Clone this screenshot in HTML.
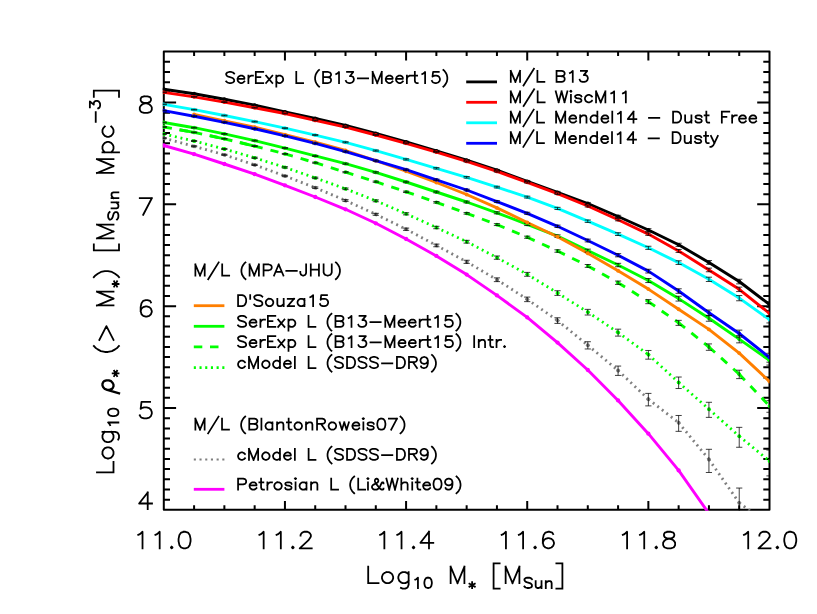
<!DOCTYPE html>
<html><head><meta charset="utf-8"><title>plot</title>
<style>html,body{margin:0;padding:0;background:#fff;font-family:"Liberation Sans",sans-serif}svg{display:block}</style>
</head><body>
<svg width="817" height="614" viewBox="0 0 817 614">
<rect width="817" height="614" fill="#fff"/>
<path d="M163.8 51.6H769.5V509.85H163.8ZM163.80 509.85v-8.9M163.80 51.6v8.9M194.09 509.85v-4.5M194.09 51.6v4.5M224.37 509.85v-4.5M224.37 51.6v4.5M254.66 509.85v-4.5M254.66 51.6v4.5M284.94 509.85v-8.9M284.94 51.6v8.9M315.23 509.85v-4.5M315.23 51.6v4.5M345.51 509.85v-4.5M345.51 51.6v4.5M375.80 509.85v-4.5M375.80 51.6v4.5M406.08 509.85v-8.9M406.08 51.6v8.9M436.37 509.85v-4.5M436.37 51.6v4.5M466.65 509.85v-4.5M466.65 51.6v4.5M496.94 509.85v-4.5M496.94 51.6v4.5M527.22 509.85v-8.9M527.22 51.6v8.9M557.51 509.85v-4.5M557.51 51.6v4.5M587.79 509.85v-4.5M587.79 51.6v4.5M618.08 509.85v-4.5M618.08 51.6v4.5M648.36 509.85v-8.9M648.36 51.6v8.9M678.64 509.85v-4.5M678.64 51.6v4.5M708.93 509.85v-4.5M708.93 51.6v4.5M739.22 509.85v-4.5M739.22 51.6v4.5M769.50 509.85v-8.9M769.50 51.6v8.9M163.8 509.85h12.3M769.5 509.85h-12.3M163.8 499.67h6.2M769.5 499.67h-6.2M163.8 489.48h6.2M769.5 489.48h-6.2M163.8 479.30h6.2M769.5 479.30h-6.2M163.8 469.12h6.2M769.5 469.12h-6.2M163.8 458.93h6.2M769.5 458.93h-6.2M163.8 448.75h6.2M769.5 448.75h-6.2M163.8 438.57h6.2M769.5 438.57h-6.2M163.8 428.38h6.2M769.5 428.38h-6.2M163.8 418.20h6.2M769.5 418.20h-6.2M163.8 408.02h12.3M769.5 408.02h-12.3M163.8 397.83h6.2M769.5 397.83h-6.2M163.8 387.65h6.2M769.5 387.65h-6.2M163.8 377.47h6.2M769.5 377.47h-6.2M163.8 367.28h6.2M769.5 367.28h-6.2M163.8 357.10h6.2M769.5 357.10h-6.2M163.8 346.92h6.2M769.5 346.92h-6.2M163.8 336.73h6.2M769.5 336.73h-6.2M163.8 326.55h6.2M769.5 326.55h-6.2M163.8 316.37h6.2M769.5 316.37h-6.2M163.8 306.18h12.3M769.5 306.18h-12.3M163.8 296.00h6.2M769.5 296.00h-6.2M163.8 285.82h6.2M769.5 285.82h-6.2M163.8 275.63h6.2M769.5 275.63h-6.2M163.8 265.45h6.2M769.5 265.45h-6.2M163.8 255.27h6.2M769.5 255.27h-6.2M163.8 245.08h6.2M769.5 245.08h-6.2M163.8 234.90h6.2M769.5 234.90h-6.2M163.8 224.72h6.2M769.5 224.72h-6.2M163.8 214.53h6.2M769.5 214.53h-6.2M163.8 204.35h12.3M769.5 204.35h-12.3M163.8 194.17h6.2M769.5 194.17h-6.2M163.8 183.98h6.2M769.5 183.98h-6.2M163.8 173.80h6.2M769.5 173.80h-6.2M163.8 163.62h6.2M769.5 163.62h-6.2M163.8 153.43h6.2M769.5 153.43h-6.2M163.8 143.25h6.2M769.5 143.25h-6.2M163.8 133.07h6.2M769.5 133.07h-6.2M163.8 122.88h6.2M769.5 122.88h-6.2M163.8 112.70h6.2M769.5 112.70h-6.2M163.8 102.52h12.3M769.5 102.52h-12.3M163.8 92.33h6.2M769.5 92.33h-6.2M163.8 82.15h6.2M769.5 82.15h-6.2M163.8 71.97h6.2M769.5 71.97h-6.2M163.8 61.78h6.2M769.5 61.78h-6.2M163.8 51.60h6.2M769.5 51.60h-6.2" fill="none" stroke="#000" stroke-width="2.0" stroke-linecap="butt" stroke-linejoin="round"/>
<clipPath id="c"><rect x="162.8" y="51.6" width="606.7" height="459.15"/></clipPath>
<g clip-path="url(#c)" fill="none" stroke-linejoin="round" stroke-linecap="butt">
<path d="M163.80 145.50L194.09 154.20L224.37 164.00L254.66 174.20L284.94 185.30L315.23 197.00L345.51 209.30L375.80 223.30L406.08 239.00L436.37 255.90L466.65 274.60L496.94 295.40L527.22 317.40L557.51 342.60L587.79 370.00L618.08 400.40L648.36 433.70L678.64 470.40L708.93 513.50L739.22 560.00L769.50 610.00" stroke="#f0f" stroke-width="2.9"/>
<path d="M163.80 138.20L194.09 146.30M194.09 146.30L224.37 154.80M224.37 154.80L254.66 164.90M254.66 164.90L284.94 176.00M284.94 176.00L315.23 187.70M315.23 187.70L345.51 200.50M345.51 200.50L375.80 214.30M375.80 214.30L406.08 229.20M406.08 229.20L436.37 245.40M436.37 245.40L466.65 261.80M466.65 261.80L496.94 279.70M496.94 279.70L527.22 299.30M527.22 299.30L557.51 320.50M557.51 320.50L587.79 345.20M587.79 345.20L618.08 370.50M618.08 370.50L648.36 399.20M648.36 399.20L678.64 422.70M678.64 422.70L708.93 459.40M708.93 459.40L739.22 502.80M739.22 502.80L769.50 525.50" stroke="#7f7f7f" stroke-width="2.8" stroke-dasharray="1.9 3.8"/>
<path d="M163.80 134.00L194.09 141.00M194.09 141.00L224.37 149.00M224.37 149.00L254.66 157.80M254.66 157.80L284.94 167.40M284.94 167.40L315.23 177.90M315.23 177.90L345.51 188.80M345.51 188.80L375.80 200.80M375.80 200.80L406.08 213.80M406.08 213.80L436.37 227.50M436.37 227.50L466.65 241.70M466.65 241.70L496.94 257.60M496.94 257.60L527.22 274.30M527.22 274.30L557.51 293.00M557.51 293.00L587.79 312.10M587.79 312.10L618.08 332.50M618.08 332.50L648.36 354.60M648.36 354.60L678.64 382.40M678.64 382.40L708.93 409.20M708.93 409.20L739.22 436.20M739.22 436.20L769.50 461.10" stroke="#0f0" stroke-width="2.8" stroke-dasharray="1.9 3.8"/>
<path d="M163.80 127.00L194.09 132.40M194.09 132.40L224.37 138.80M224.37 138.80L254.66 146.10M254.66 146.10L284.94 153.90M284.94 153.90L315.23 162.70M315.23 162.70L345.51 172.20M345.51 172.20L375.80 181.70M375.80 181.70L406.08 191.80M406.08 191.80L436.37 202.30M436.37 202.30L466.65 213.30M466.65 213.30L496.94 224.60M496.94 224.60L527.22 237.20M527.22 237.20L557.51 251.00M557.51 251.00L587.79 265.90M587.79 265.90L618.08 282.70M618.08 282.70L648.36 301.60M648.36 301.60L678.64 322.80M678.64 322.80L708.93 347.00M708.93 347.00L739.22 374.20M739.22 374.20L769.50 406.10" stroke="#0f0" stroke-width="2.9" stroke-dasharray="8.2 8.1"/>
<path d="M179.35 129.77L194.09 132.40M209.54 135.67L224.37 138.80M239.73 142.50L254.66 146.10" stroke="#0f0" stroke-width="2.9"/>
<path d="M163.80 122.50L194.09 127.70L224.37 133.90L254.66 140.60L284.94 148.10L315.23 155.90L345.51 163.70L375.80 172.40L406.08 182.00L436.37 192.00L466.65 202.00L496.94 212.80L527.22 224.40L557.51 236.10L587.79 250.60L618.08 265.00L648.36 280.50L678.64 298.60L708.93 318.20L739.22 339.10L769.50 360.40" stroke="#0f0" stroke-width="2.9"/>
<path d="M194.09 114.50L224.37 120.80L254.66 127.10L284.94 134.60L315.23 142.20L345.51 150.50L375.80 160.70L406.08 171.20L436.37 182.50L466.65 194.50L496.94 207.90L527.22 222.50L557.51 236.80L587.79 253.30L618.08 270.70L648.36 289.10L678.64 309.20L708.93 329.40L739.22 353.10L769.50 381.50" stroke="#ff7f00" stroke-width="2.9"/>
<path d="M163.80 89.20L194.09 93.70L224.37 99.20L254.66 105.10L284.94 111.80L315.23 118.40L345.51 125.40L375.80 133.50L406.08 141.80L436.37 150.90L466.65 160.20L496.94 170.20L527.22 181.30L557.51 192.30L587.79 203.50L618.08 216.50L648.36 230.00L678.64 244.80L708.93 262.40L739.22 281.50L769.50 304.50" stroke="#000" stroke-width="2.9"/>
<path d="M163.80 92.35L194.09 96.85L224.37 102.10L254.66 107.70L284.94 113.50L315.23 120.40L345.51 127.10L375.80 135.00L406.08 143.30L436.37 152.10L466.65 161.40L496.94 171.40L527.22 182.30L557.51 193.70L587.79 206.00L618.08 219.70L648.36 234.10L678.64 250.90L708.93 269.90L739.22 289.30L769.50 313.40" stroke="#f00" stroke-width="2.9"/>
<path d="M163.80 104.35L194.09 109.65L224.37 115.50L254.66 121.60L284.94 128.20L315.23 135.10L345.51 142.30L375.80 150.60L406.08 159.40L436.37 168.30L466.65 177.30L496.94 187.10L527.22 197.10L557.51 208.40L587.79 221.20L618.08 234.10L648.36 247.80L678.64 262.60L708.93 279.30L739.22 298.10L769.50 319.60" stroke="#0ff" stroke-width="2.9"/>
<path d="M163.80 110.60L194.09 116.25L224.37 122.30L254.66 128.75L284.94 135.80L315.23 143.40L345.51 151.60L375.80 160.70L406.08 169.70L436.37 179.80L466.65 190.00L496.94 201.60L527.22 213.30L557.51 226.30L587.79 240.50L618.08 255.20L648.36 271.10L678.64 291.00L708.93 312.80L739.22 333.50L769.50 357.50" stroke="#00f" stroke-width="2.9"/>
</g>
<g clip-path="url(#c)">
<g fill="#f0f"><circle cx="163.80" cy="145.50" r="2.15"/><circle cx="194.09" cy="154.20" r="2.15"/><circle cx="224.37" cy="164.00" r="2.15"/><circle cx="254.66" cy="174.20" r="2.15"/><circle cx="284.94" cy="185.30" r="2.15"/><circle cx="315.23" cy="197.00" r="2.15"/><circle cx="345.51" cy="209.30" r="2.15"/><circle cx="375.80" cy="223.30" r="2.15"/><circle cx="406.08" cy="239.00" r="2.15"/><circle cx="436.37" cy="255.90" r="2.15"/><circle cx="466.65" cy="274.60" r="2.15"/><circle cx="496.94" cy="295.40" r="2.15"/><circle cx="527.22" cy="317.40" r="2.15"/><circle cx="557.51" cy="342.60" r="2.15"/><circle cx="587.79" cy="370.00" r="2.15"/><circle cx="618.08" cy="400.40" r="2.15"/><circle cx="648.36" cy="433.70" r="2.15"/><circle cx="678.64" cy="470.40" r="2.15"/></g>
<g fill="#7f7f7f"><circle cx="163.80" cy="138.20" r="1.9"/><circle cx="194.09" cy="146.30" r="1.9"/><circle cx="224.37" cy="154.80" r="1.9"/><circle cx="254.66" cy="164.90" r="1.9"/><circle cx="284.94" cy="176.00" r="1.9"/><circle cx="315.23" cy="187.70" r="1.9"/><circle cx="345.51" cy="200.50" r="1.9"/><circle cx="375.80" cy="214.30" r="1.9"/><circle cx="406.08" cy="229.20" r="1.9"/><circle cx="436.37" cy="245.40" r="1.9"/><circle cx="466.65" cy="261.80" r="1.9"/><circle cx="496.94" cy="279.70" r="1.9"/><circle cx="527.22" cy="299.30" r="1.9"/><circle cx="557.51" cy="320.50" r="1.9"/><circle cx="587.79" cy="345.20" r="1.9"/><circle cx="618.08" cy="370.50" r="1.9"/><circle cx="648.36" cy="399.20" r="1.9"/><circle cx="678.64" cy="422.70" r="1.9"/><circle cx="708.93" cy="459.40" r="1.9"/><circle cx="739.22" cy="502.80" r="1.9"/></g>
<path d="M163.80 137.75V138.66M160.70 137.75h6.2M160.70 138.66h6.2M194.09 145.81V146.80M190.99 145.81h6.2M190.99 146.80h6.2M224.37 154.27V155.34M221.27 154.27h6.2M221.27 155.34h6.2M254.66 164.31V165.50M251.56 164.31h6.2M251.56 165.50h6.2M284.94 175.34V176.67M281.84 175.34h6.2M281.84 176.67h6.2M315.23 186.96V188.45M312.12 186.96h6.2M312.12 188.45h6.2M345.51 199.66V201.36M342.41 199.66h6.2M342.41 201.36h6.2M375.80 213.34V215.29M372.70 213.34h6.2M372.70 215.29h6.2M406.08 228.08V230.35M402.98 228.08h6.2M402.98 230.35h6.2M436.37 244.09V246.75M433.26 244.09h6.2M433.26 246.75h6.2M466.65 260.26V263.40M463.55 260.26h6.2M463.55 263.40h6.2M496.94 277.86V281.62M493.84 277.86h6.2M493.84 281.62h6.2M527.22 297.08V301.64M524.12 297.08h6.2M524.12 301.64h6.2M557.51 317.77V323.42M554.41 317.77h6.2M554.41 323.42h6.2M587.79 341.73V348.97M584.69 341.73h6.2M584.69 348.97h6.2M618.08 366.07V375.42M614.98 366.07h6.2M614.98 375.42h6.2M648.36 393.40V405.88M645.26 393.40h6.2M645.26 405.88h6.2M678.64 415.48V431.34M675.54 415.48h6.2M675.54 431.34h6.2M708.93 449.31V472.49M705.83 449.31h6.2M705.83 472.49h6.2M739.22 488.06V525.08M736.12 488.06h6.2M736.12 525.08h6.2" fill="none" stroke="#000" stroke-opacity="0.75" stroke-width="1"/>
<g fill="#0f0"><circle cx="163.80" cy="134.00" r="1.9"/><circle cx="194.09" cy="141.00" r="1.9"/><circle cx="224.37" cy="149.00" r="1.9"/><circle cx="254.66" cy="157.80" r="1.9"/><circle cx="284.94" cy="167.40" r="1.9"/><circle cx="315.23" cy="177.90" r="1.9"/><circle cx="345.51" cy="188.80" r="1.9"/><circle cx="375.80" cy="200.80" r="1.9"/><circle cx="406.08" cy="213.80" r="1.9"/><circle cx="436.37" cy="227.50" r="1.9"/><circle cx="466.65" cy="241.70" r="1.9"/><circle cx="496.94" cy="257.60" r="1.9"/><circle cx="527.22" cy="274.30" r="1.9"/><circle cx="557.51" cy="293.00" r="1.9"/><circle cx="587.79" cy="312.10" r="1.9"/><circle cx="618.08" cy="332.50" r="1.9"/><circle cx="648.36" cy="354.60" r="1.9"/><circle cx="678.64" cy="382.40" r="1.9"/><circle cx="708.93" cy="409.20" r="1.9"/><circle cx="739.22" cy="436.20" r="1.9"/><circle cx="769.50" cy="461.10" r="1.9"/></g>
<path d="M163.80 133.53V134.48M160.70 133.53h6.2M160.70 134.48h6.2M194.09 140.49V141.51M190.99 140.49h6.2M190.99 141.51h6.2M224.37 148.45V149.56M221.27 148.45h6.2M221.27 149.56h6.2M254.66 157.20V158.41M251.56 157.20h6.2M251.56 158.41h6.2M284.94 166.74V168.07M281.84 166.74h6.2M281.84 168.07h6.2M315.23 177.17V178.64M312.12 177.17h6.2M312.12 178.64h6.2M345.51 187.98V189.63M342.41 187.98h6.2M342.41 189.63h6.2M375.80 199.88V201.74M372.70 199.88h6.2M372.70 201.74h6.2M406.08 212.75V214.87M402.98 212.75h6.2M402.98 214.87h6.2M436.37 226.30V228.73M433.26 226.30h6.2M433.26 228.73h6.2M466.65 240.32V243.12M463.55 240.32h6.2M463.55 243.12h6.2M496.94 255.99V259.27M493.84 255.99h6.2M493.84 259.27h6.2M527.22 272.40V276.28M524.12 272.40h6.2M524.12 276.28h6.2M557.51 290.72V295.40M554.41 290.72h6.2M554.41 295.40h6.2M587.79 309.36V315.02M584.69 309.36h6.2M584.69 315.02h6.2M618.08 329.16V336.11M614.98 329.16h6.2M614.98 336.11h6.2M648.36 350.47V359.16M645.26 350.47h6.2M645.26 359.16h6.2M678.64 377.02V388.52M675.54 377.02h6.2M675.54 388.52h6.2M708.93 402.29V417.39M705.83 402.29h6.2M705.83 417.39h6.2M739.22 427.35V447.28M736.12 427.35h6.2M736.12 447.28h6.2M769.50 450.03V475.89M766.40 450.03h6.2M766.40 475.89h6.2" fill="none" stroke="#000" stroke-opacity="0.75" stroke-width="1"/>
<g fill="#0f0"><circle cx="163.80" cy="127.00" r="1.9"/><circle cx="194.09" cy="132.40" r="1.9"/><circle cx="224.37" cy="138.80" r="1.9"/><circle cx="254.66" cy="146.10" r="1.9"/><circle cx="284.94" cy="153.90" r="1.9"/><circle cx="315.23" cy="162.70" r="1.9"/><circle cx="345.51" cy="172.20" r="1.9"/><circle cx="375.80" cy="181.70" r="1.9"/><circle cx="406.08" cy="191.80" r="1.9"/><circle cx="436.37" cy="202.30" r="1.9"/><circle cx="466.65" cy="213.30" r="1.9"/><circle cx="496.94" cy="224.60" r="1.9"/><circle cx="527.22" cy="237.20" r="1.9"/><circle cx="557.51" cy="251.00" r="1.9"/><circle cx="587.79" cy="265.90" r="1.9"/><circle cx="618.08" cy="282.70" r="1.9"/><circle cx="648.36" cy="301.60" r="1.9"/><circle cx="678.64" cy="322.80" r="1.9"/><circle cx="708.93" cy="347.00" r="1.9"/><circle cx="739.22" cy="374.20" r="1.9"/><circle cx="769.50" cy="406.10" r="1.9"/></g>
<path d="M163.80 126.60V127.40M160.70 126.60h6.2M160.70 127.40h6.2M194.09 132.00V132.80M190.99 132.00h6.2M190.99 132.80h6.2M224.37 138.40V139.20M221.27 138.40h6.2M221.27 139.20h6.2M254.66 145.67V146.53M251.56 145.67h6.2M251.56 146.53h6.2M284.94 153.44V154.37M281.84 153.44h6.2M281.84 154.37h6.2M315.23 162.20V163.21M312.12 162.20h6.2M312.12 163.21h6.2M345.51 171.65V172.76M342.41 171.65h6.2M342.41 172.76h6.2M375.80 181.09V182.32M372.70 181.09h6.2M372.70 182.32h6.2M406.08 191.13V192.48M402.98 191.13h6.2M402.98 192.48h6.2M436.37 201.55V203.06M433.26 201.55h6.2M433.26 203.06h6.2M466.65 212.47V214.15M463.55 212.47h6.2M463.55 214.15h6.2M496.94 223.67V225.55M493.84 223.67h6.2M493.84 225.55h6.2M527.22 236.15V238.28M524.12 236.15h6.2M524.12 238.28h6.2M557.51 249.79V252.24M554.41 249.79h6.2M554.41 252.24h6.2M587.79 264.50V267.34M584.69 264.50h6.2M584.69 267.34h6.2M618.08 281.05V284.41M614.98 281.05h6.2M614.98 284.41h6.2M648.36 299.61V303.68M645.26 299.61h6.2M645.26 303.68h6.2M678.64 320.36V325.38M675.54 320.36h6.2M675.54 325.38h6.2M708.93 343.91V350.32M705.83 343.91h6.2M705.83 350.32h6.2M739.22 370.19V378.61M736.12 370.19h6.2M736.12 378.61h6.2M769.50 400.67V412.29M766.40 400.67h6.2M766.40 412.29h6.2" fill="none" stroke="#000" stroke-opacity="0.75" stroke-width="1"/>
<g fill="#0f0"><circle cx="163.80" cy="122.50" r="1.9"/><circle cx="194.09" cy="127.70" r="1.9"/><circle cx="224.37" cy="133.90" r="1.9"/><circle cx="254.66" cy="140.60" r="1.9"/><circle cx="284.94" cy="148.10" r="1.9"/><circle cx="315.23" cy="155.90" r="1.9"/><circle cx="345.51" cy="163.70" r="1.9"/><circle cx="375.80" cy="172.40" r="1.9"/><circle cx="406.08" cy="182.00" r="1.9"/><circle cx="436.37" cy="192.00" r="1.9"/><circle cx="466.65" cy="202.00" r="1.9"/><circle cx="496.94" cy="212.80" r="1.9"/><circle cx="527.22" cy="224.40" r="1.9"/><circle cx="557.51" cy="236.10" r="1.9"/><circle cx="587.79" cy="250.60" r="1.9"/><circle cx="618.08" cy="265.00" r="1.9"/><circle cx="648.36" cy="280.50" r="1.9"/><circle cx="678.64" cy="298.60" r="1.9"/><circle cx="708.93" cy="318.20" r="1.9"/><circle cx="739.22" cy="339.10" r="1.9"/><circle cx="769.50" cy="360.40" r="1.9"/></g>
<path d="M163.80 122.09V122.91M160.70 122.09h6.2M160.70 122.91h6.2M194.09 127.27V128.14M190.99 127.27h6.2M190.99 128.14h6.2M224.37 133.44V134.36M221.27 133.44h6.2M221.27 134.36h6.2M254.66 140.11V141.10M251.56 140.11h6.2M251.56 141.10h6.2M284.94 147.57V148.64M281.84 147.57h6.2M281.84 148.64h6.2M315.23 155.33V156.48M312.12 155.33h6.2M312.12 156.48h6.2M345.51 163.08V164.33M342.41 163.08h6.2M342.41 164.33h6.2M375.80 171.73V173.08M372.70 171.73h6.2M372.70 173.08h6.2M406.08 181.26V182.75M402.98 181.26h6.2M402.98 182.75h6.2M436.37 191.18V192.83M433.26 191.18h6.2M433.26 192.83h6.2M466.65 201.10V202.92M463.55 201.10h6.2M463.55 202.92h6.2M496.94 211.79V213.83M493.84 211.79h6.2M493.84 213.83h6.2M527.22 223.27V225.56M524.12 223.27h6.2M524.12 225.56h6.2M557.51 234.83V237.40M554.41 234.83h6.2M554.41 237.40h6.2M587.79 249.14V252.11M584.69 249.14h6.2M584.69 252.11h6.2M618.08 263.32V266.75M614.98 263.32h6.2M614.98 266.75h6.2M648.36 278.54V282.55M645.26 278.54h6.2M645.26 282.55h6.2M678.64 296.26V301.07M675.54 296.26h6.2M675.54 301.07h6.2M708.93 315.37V321.22M705.83 315.37h6.2M705.83 321.22h6.2M739.22 335.64V342.86M736.12 335.64h6.2M736.12 342.86h6.2M769.50 356.15V365.10M766.40 356.15h6.2M766.40 365.10h6.2" fill="none" stroke="#000" stroke-opacity="0.75" stroke-width="1"/>
<g fill="#ff7f00"><circle cx="194.09" cy="114.50" r="1.95"/><circle cx="224.37" cy="120.80" r="1.95"/><circle cx="254.66" cy="127.10" r="1.95"/><circle cx="284.94" cy="134.60" r="1.95"/><circle cx="315.23" cy="142.20" r="1.95"/><circle cx="345.51" cy="150.50" r="1.95"/><circle cx="375.80" cy="160.70" r="1.95"/><circle cx="406.08" cy="171.20" r="1.95"/><circle cx="436.37" cy="182.50" r="1.95"/><circle cx="466.65" cy="194.50" r="1.95"/><circle cx="496.94" cy="207.90" r="1.95"/><circle cx="527.22" cy="222.50" r="1.95"/><circle cx="557.51" cy="236.80" r="1.95"/><circle cx="587.79" cy="253.30" r="1.95"/><circle cx="618.08" cy="270.70" r="1.95"/><circle cx="648.36" cy="289.10" r="1.95"/><circle cx="678.64" cy="309.20" r="1.95"/><circle cx="708.93" cy="329.40" r="1.95"/><circle cx="739.22" cy="353.10" r="1.95"/><circle cx="769.50" cy="381.50" r="1.95"/></g>
<g fill="#000"><circle cx="163.80" cy="89.20" r="1.9"/><circle cx="194.09" cy="93.70" r="1.9"/><circle cx="224.37" cy="99.20" r="1.9"/><circle cx="254.66" cy="105.10" r="1.9"/><circle cx="284.94" cy="111.80" r="1.9"/><circle cx="315.23" cy="118.40" r="1.9"/><circle cx="345.51" cy="125.40" r="1.9"/><circle cx="375.80" cy="133.50" r="1.9"/><circle cx="406.08" cy="141.80" r="1.9"/><circle cx="436.37" cy="150.90" r="1.9"/><circle cx="466.65" cy="160.20" r="1.9"/><circle cx="496.94" cy="170.20" r="1.9"/><circle cx="527.22" cy="181.30" r="1.9"/><circle cx="557.51" cy="192.30" r="1.9"/><circle cx="587.79" cy="203.50" r="1.9"/><circle cx="618.08" cy="216.50" r="1.9"/><circle cx="648.36" cy="230.00" r="1.9"/><circle cx="678.64" cy="244.80" r="1.9"/><circle cx="708.93" cy="262.40" r="1.9"/><circle cx="739.22" cy="281.50" r="1.9"/><circle cx="769.50" cy="304.50" r="1.9"/></g>
<path d="M163.80 88.80V89.60M160.70 88.80h6.2M160.70 89.60h6.2M194.09 93.30V94.10M190.99 93.30h6.2M190.99 94.10h6.2M224.37 98.80V99.60M221.27 98.80h6.2M221.27 99.60h6.2M254.66 104.70V105.50M251.56 104.70h6.2M251.56 105.50h6.2M284.94 111.38V112.22M281.84 111.38h6.2M281.84 112.22h6.2M315.23 117.95V118.85M312.12 117.95h6.2M312.12 118.85h6.2M345.51 124.92V125.88M342.41 124.92h6.2M342.41 125.88h6.2M375.80 132.98V134.03M372.70 132.98h6.2M372.70 134.03h6.2M406.08 141.24V142.37M402.98 141.24h6.2M402.98 142.37h6.2M436.37 150.28V151.53M433.26 150.28h6.2M433.26 151.53h6.2M466.65 159.52V160.89M463.55 159.52h6.2M463.55 160.89h6.2M496.94 169.45V170.96M493.84 169.45h6.2M493.84 170.96h6.2M527.22 180.46V182.15M524.12 180.46h6.2M524.12 182.15h6.2M557.51 191.37V193.25M554.41 191.37h6.2M554.41 193.25h6.2M587.79 202.46V204.57M584.69 202.46h6.2M584.69 204.57h6.2M618.08 215.32V217.72M614.98 215.32h6.2M614.98 217.72h6.2M648.36 228.65V231.40M645.26 228.65h6.2M645.26 231.40h6.2M678.64 243.24V246.42M675.54 243.24h6.2M675.54 246.42h6.2M708.93 260.54V264.34M705.83 260.54h6.2M705.83 264.34h6.2M739.22 279.26V283.86M736.12 279.26h6.2M736.12 283.86h6.2M769.50 301.70V307.49M766.40 301.70h6.2M766.40 307.49h6.2" fill="none" stroke="#000" stroke-opacity="0.75" stroke-width="1"/>
<g fill="#f00"><circle cx="163.80" cy="92.35" r="1.9"/><circle cx="194.09" cy="96.85" r="1.9"/><circle cx="224.37" cy="102.10" r="1.9"/><circle cx="254.66" cy="107.70" r="1.9"/><circle cx="284.94" cy="113.50" r="1.9"/><circle cx="315.23" cy="120.40" r="1.9"/><circle cx="345.51" cy="127.10" r="1.9"/><circle cx="375.80" cy="135.00" r="1.9"/><circle cx="406.08" cy="143.30" r="1.9"/><circle cx="436.37" cy="152.10" r="1.9"/><circle cx="466.65" cy="161.40" r="1.9"/><circle cx="496.94" cy="171.40" r="1.9"/><circle cx="527.22" cy="182.30" r="1.9"/><circle cx="557.51" cy="193.70" r="1.9"/><circle cx="587.79" cy="206.00" r="1.9"/><circle cx="618.08" cy="219.70" r="1.9"/><circle cx="648.36" cy="234.10" r="1.9"/><circle cx="678.64" cy="250.90" r="1.9"/><circle cx="708.93" cy="269.90" r="1.9"/><circle cx="739.22" cy="289.30" r="1.9"/><circle cx="769.50" cy="313.40" r="1.9"/></g>
<path d="M163.80 91.95V92.75M160.70 91.95h6.2M160.70 92.75h6.2M194.09 96.45V97.25M190.99 96.45h6.2M190.99 97.25h6.2M224.37 101.70V102.50M221.27 101.70h6.2M221.27 102.50h6.2M254.66 107.30V108.10M251.56 107.30h6.2M251.56 108.10h6.2M284.94 113.10V113.90M281.84 113.10h6.2M281.84 113.90h6.2M315.23 120.00V120.81M312.12 120.00h6.2M312.12 120.81h6.2M345.51 126.67V127.54M342.41 126.67h6.2M342.41 127.54h6.2M375.80 134.53V135.47M372.70 134.53h6.2M372.70 135.47h6.2M406.08 142.79V143.81M402.98 142.79h6.2M402.98 143.81h6.2M436.37 151.55V152.66M433.26 151.55h6.2M433.26 152.66h6.2M466.65 160.79V162.02M463.55 160.79h6.2M463.55 162.02h6.2M496.94 170.73V172.08M493.84 170.73h6.2M493.84 172.08h6.2M527.22 181.55V183.06M524.12 181.55h6.2M524.12 183.06h6.2M557.51 192.86V194.55M554.41 192.86h6.2M554.41 194.55h6.2M587.79 205.05V206.97M584.69 205.05h6.2M584.69 206.97h6.2M618.08 218.62V220.81M614.98 218.62h6.2M614.98 220.81h6.2M648.36 232.85V235.38M645.26 232.85h6.2M645.26 235.38h6.2M678.64 249.43V252.42M675.54 249.43h6.2M675.54 252.42h6.2M708.93 268.12V271.75M705.83 268.12h6.2M705.83 271.75h6.2M739.22 287.15V291.56M736.12 287.15h6.2M736.12 291.56h6.2M769.50 310.68V316.29M766.40 310.68h6.2M766.40 316.29h6.2" fill="none" stroke="#000" stroke-opacity="0.75" stroke-width="1"/>
<g fill="#0ff"><circle cx="163.80" cy="104.35" r="1.9"/><circle cx="194.09" cy="109.65" r="1.9"/><circle cx="224.37" cy="115.50" r="1.9"/><circle cx="254.66" cy="121.60" r="1.9"/><circle cx="284.94" cy="128.20" r="1.9"/><circle cx="315.23" cy="135.10" r="1.9"/><circle cx="345.51" cy="142.30" r="1.9"/><circle cx="375.80" cy="150.60" r="1.9"/><circle cx="406.08" cy="159.40" r="1.9"/><circle cx="436.37" cy="168.30" r="1.9"/><circle cx="466.65" cy="177.30" r="1.9"/><circle cx="496.94" cy="187.10" r="1.9"/><circle cx="527.22" cy="197.10" r="1.9"/><circle cx="557.51" cy="208.40" r="1.9"/><circle cx="587.79" cy="221.20" r="1.9"/><circle cx="618.08" cy="234.10" r="1.9"/><circle cx="648.36" cy="247.80" r="1.9"/><circle cx="678.64" cy="262.60" r="1.9"/><circle cx="708.93" cy="279.30" r="1.9"/><circle cx="739.22" cy="298.10" r="1.9"/><circle cx="769.50" cy="319.60" r="1.9"/></g>
<path d="M163.80 103.95V104.75M160.70 103.95h6.2M160.70 104.75h6.2M194.09 109.25V110.05M190.99 109.25h6.2M190.99 110.05h6.2M224.37 115.08V115.92M221.27 115.08h6.2M221.27 115.92h6.2M254.66 121.16V122.05M251.56 121.16h6.2M251.56 122.05h6.2M284.94 127.73V128.68M281.84 127.73h6.2M281.84 128.68h6.2M315.23 134.59V135.61M312.12 134.59h6.2M312.12 135.61h6.2M345.51 141.76V142.85M342.41 141.76h6.2M342.41 142.85h6.2M375.80 150.01V151.20M372.70 150.01h6.2M372.70 151.20h6.2M406.08 158.76V160.05M402.98 158.76h6.2M402.98 160.05h6.2M436.37 167.60V169.01M433.26 167.60h6.2M433.26 169.01h6.2M466.65 176.53V178.08M463.55 176.53h6.2M463.55 178.08h6.2M496.94 186.25V187.96M493.84 186.25h6.2M493.84 187.96h6.2M527.22 196.16V198.06M524.12 196.16h6.2M524.12 198.06h6.2M557.51 207.35V209.47M554.41 207.35h6.2M554.41 209.47h6.2M587.79 220.01V222.42M584.69 220.01h6.2M584.69 222.42h6.2M618.08 232.75V235.49M614.98 232.75h6.2M614.98 235.49h6.2M648.36 246.26V249.40M645.26 246.26h6.2M645.26 249.40h6.2M678.64 260.81V264.46M675.54 260.81h6.2M675.54 264.46h6.2M708.93 277.20V281.51M705.83 277.20h6.2M705.83 281.51h6.2M739.22 295.57V300.78M736.12 295.57h6.2M736.12 300.78h6.2M769.50 316.49V322.95M766.40 316.49h6.2M766.40 322.95h6.2" fill="none" stroke="#000" stroke-opacity="0.75" stroke-width="1"/>
<g fill="#00f"><circle cx="163.80" cy="110.60" r="1.9"/><circle cx="194.09" cy="116.25" r="1.9"/><circle cx="224.37" cy="122.30" r="1.9"/><circle cx="254.66" cy="128.75" r="1.9"/><circle cx="284.94" cy="135.80" r="1.9"/><circle cx="315.23" cy="143.40" r="1.9"/><circle cx="345.51" cy="151.60" r="1.9"/><circle cx="375.80" cy="160.70" r="1.9"/><circle cx="406.08" cy="169.70" r="1.9"/><circle cx="436.37" cy="179.80" r="1.9"/><circle cx="466.65" cy="190.00" r="1.9"/><circle cx="496.94" cy="201.60" r="1.9"/><circle cx="527.22" cy="213.30" r="1.9"/><circle cx="557.51" cy="226.30" r="1.9"/><circle cx="587.79" cy="240.50" r="1.9"/><circle cx="618.08" cy="255.20" r="1.9"/><circle cx="648.36" cy="271.10" r="1.9"/><circle cx="678.64" cy="291.00" r="1.9"/><circle cx="708.93" cy="312.80" r="1.9"/><circle cx="739.22" cy="333.50" r="1.9"/><circle cx="769.50" cy="357.50" r="1.9"/></g>
<path d="M163.80 110.20V111.00M160.70 110.20h6.2M160.70 111.00h6.2M194.09 115.85V116.65M190.99 115.85h6.2M190.99 116.65h6.2M224.37 121.88V122.72M221.27 121.88h6.2M221.27 122.72h6.2M254.66 128.30V129.20M251.56 128.30h6.2M251.56 129.20h6.2M284.94 135.32V136.29M281.84 135.32h6.2M281.84 136.29h6.2M315.23 142.88V143.92M312.12 142.88h6.2M312.12 143.92h6.2M345.51 151.04V152.17M342.41 151.04h6.2M342.41 152.17h6.2M375.80 160.08V161.32M372.70 160.08h6.2M372.70 161.32h6.2M406.08 169.03V170.38M402.98 169.03h6.2M402.98 170.38h6.2M436.37 179.06V180.56M433.26 179.06h6.2M433.26 180.56h6.2M466.65 189.18V190.84M463.55 189.18h6.2M463.55 190.84h6.2M496.94 200.68V202.54M493.84 200.68h6.2M493.84 202.54h6.2M527.22 212.26V214.36M524.12 212.26h6.2M524.12 214.36h6.2M557.51 225.12V227.51M554.41 225.12h6.2M554.41 227.51h6.2M587.79 239.14V241.90M584.69 239.14h6.2M584.69 241.90h6.2M618.08 253.63V256.83M614.98 253.63h6.2M614.98 256.83h6.2M648.36 269.26V273.01M645.26 269.26h6.2M645.26 273.01h6.2M678.64 288.77V293.35M675.54 288.77h6.2M675.54 293.35h6.2M708.93 310.04V315.74M705.83 310.04h6.2M705.83 315.74h6.2M739.22 330.13V337.15M736.12 330.13h6.2M736.12 337.15h6.2M769.50 353.26V362.19M766.40 353.26h6.2M766.40 362.19h6.2" fill="none" stroke="#000" stroke-opacity="0.75" stroke-width="1"/>
</g>
<path d="M466.2 81.9H497.0" stroke="#000" stroke-width="2.8" fill="none"/>
<path d="M466.2 102.3H497.0" stroke="#f00" stroke-width="2.8" fill="none"/>
<path d="M466.2 122.8H497.0" stroke="#0ff" stroke-width="2.8" fill="none"/>
<path d="M466.2 143.3H497.0" stroke="#00f" stroke-width="2.8" fill="none"/>
<path d="M193.8 305.7H224.4" stroke="#ff7f00" stroke-width="2.8" fill="none"/>
<path d="M193.8 326.3H224.4" stroke="#0f0" stroke-width="2.8" fill="none"/>
<path d="M193.8 346.8H224.4" stroke="#0f0" stroke-width="2.8" stroke-dasharray="8.5 7.7" fill="none"/>
<path d="M193.8 367.6H224.4" stroke="#0f0" stroke-width="2.8" stroke-dasharray="2.1 3.6" fill="none"/>
<path d="M193.8 459.6H224.4" stroke="#7f7f7f" stroke-width="2.0" stroke-dasharray="2.1 3.6" fill="none"/>
<path d="M193.8 489.3H224.4" stroke="#f0f" stroke-width="2.8" fill="none"/>
<path d="M234.15 73.55L233.01 72.50L231.30 71.98L229.02 71.98L227.31 72.50L226.18 73.55L226.18 74.60L226.74 75.65L227.31 76.18L228.45 76.70L231.87 77.75L233.01 78.28L233.58 78.80L234.15 79.85L234.15 81.43L233.01 82.48L231.30 83.00L229.02 83.00L227.31 82.48L226.18 81.43M237.57 78.80L244.41 78.80L244.41 77.75L243.84 76.70L243.27 76.18L242.13 75.65L240.42 75.65L239.28 76.18L238.14 77.23L237.57 78.80L237.57 79.85L238.14 81.43L239.28 82.48L240.42 83.00L242.13 83.00L243.27 82.48L244.41 81.43M248.40 75.65L248.40 83.00M248.40 78.80L248.97 77.23L250.11 76.18L251.25 75.65L252.96 75.65M255.81 71.98L255.81 83.00M255.81 71.98L263.22 71.98M255.81 77.23L260.37 77.23M255.81 83.00L263.22 83.00M266.07 75.65L272.34 83.00M272.34 75.65L266.07 83.00M276.33 75.65L276.33 86.67M276.33 77.23L277.47 76.18L278.61 75.65L280.32 75.65L281.46 76.18L282.60 77.23L283.17 78.80L283.17 79.85L282.60 81.43L281.46 82.48L280.32 83.00L278.61 83.00L277.47 82.48L276.33 81.43M296.28 71.98L296.28 83.00M296.28 83.00L303.12 83.00M319.08 69.88L317.94 70.93L316.80 72.50L315.66 74.60L315.09 77.23L315.09 79.33L315.66 81.95L316.80 84.05L317.94 85.62L319.08 86.67M323.07 71.98L323.07 83.00M323.07 71.98L328.20 71.98L329.91 72.50L330.48 73.03L331.05 74.08L331.05 75.13L330.48 76.18L329.91 76.70L328.20 77.23M323.07 77.23L328.20 77.23L329.91 77.75L330.48 78.28L331.05 79.33L331.05 80.90L330.48 81.95L329.91 82.48L328.20 83.00L323.07 83.00M336.18 74.08L337.32 73.55L339.03 71.98L339.03 83.00M347.01 71.98L353.28 71.98L349.86 76.18L351.57 76.18L352.71 76.70L353.28 77.23L353.85 78.80L353.85 79.85L353.28 81.43L352.14 82.48L350.43 83.00L348.72 83.00L347.01 82.48L346.44 81.95L345.87 80.90M357.84 78.28L368.10 78.28M372.66 71.98L372.66 83.00M372.66 71.98L377.22 83.00M381.78 71.98L377.22 83.00M381.78 71.98L381.78 83.00M385.77 78.80L392.61 78.80L392.61 77.75L392.04 76.70L391.47 76.18L390.33 75.65L388.62 75.65L387.48 76.18L386.34 77.23L385.77 78.80L385.77 79.85L386.34 81.43L387.48 82.48L388.62 83.00L390.33 83.00L391.47 82.48L392.61 81.43M396.03 78.80L402.87 78.80L402.87 77.75L402.30 76.70L401.73 76.18L400.59 75.65L398.88 75.65L397.74 76.18L396.60 77.23L396.03 78.80L396.03 79.85L396.60 81.43L397.74 82.48L398.88 83.00L400.59 83.00L401.73 82.48L402.87 81.43M406.86 75.65L406.86 83.00M406.86 78.80L407.43 77.23L408.57 76.18L409.71 75.65L411.42 75.65M414.84 71.98L414.84 80.90L415.41 82.48L416.55 83.00L417.69 83.00M413.13 75.65L417.12 75.65M422.25 74.08L423.39 73.55L425.10 71.98L425.10 83.00M438.78 71.98L433.08 71.98L432.51 76.70L433.08 76.18L434.79 75.65L436.50 75.65L438.21 76.18L439.35 77.23L439.92 78.80L439.92 79.85L439.35 81.43L438.21 82.48L436.50 83.00L434.79 83.00L433.08 82.48L432.51 81.95L431.94 80.90M443.34 69.88L444.48 70.93L445.62 72.50L446.76 74.60L447.32 77.23L447.32 79.33L446.76 81.95L445.62 84.05L444.48 85.62L443.34 86.67" fill="none" stroke="#000" stroke-width="1.75" stroke-linecap="square" stroke-linejoin="round"/>
<path d="M510.77 70.88L510.77 81.90M510.77 70.88L515.41 81.90M520.04 70.88L515.41 81.90M520.04 70.88L520.04 81.90M533.95 68.78L523.52 85.57M537.42 70.88L537.42 81.90M537.42 81.90L544.38 81.90M556.54 70.88L556.54 81.90M556.54 70.88L561.76 70.88L563.49 71.40L564.07 71.93L564.65 72.98L564.65 74.03L564.07 75.08L563.49 75.60L561.76 76.13M556.54 76.13L561.76 76.13L563.49 76.65L564.07 77.18L564.65 78.23L564.65 79.80L564.07 80.85L563.49 81.38L561.76 81.90L556.54 81.90M569.87 72.98L571.02 72.45L572.76 70.88L572.76 81.90M580.87 70.88L587.25 70.88L583.77 75.08L585.51 75.08L586.67 75.60L587.25 76.13L587.83 77.70L587.83 78.75L587.25 80.33L586.09 81.38L584.35 81.90L582.61 81.90L580.87 81.38L580.29 80.85L579.71 79.80" fill="none" stroke="#000" stroke-width="1.75" stroke-linecap="square" stroke-linejoin="round"/>
<path d="M510.77 91.28L510.77 102.30M510.77 91.28L515.45 102.30M520.12 91.28L515.45 102.30M520.12 91.28L520.12 102.30M534.14 89.18L523.62 105.97M537.64 91.28L537.64 102.30M537.64 102.30L544.65 102.30M555.74 91.28L558.66 102.30M561.58 91.28L558.66 102.30M561.58 91.28L564.50 102.30M567.42 91.28L564.50 102.30M570.34 91.28L570.93 91.80L571.51 91.28L570.93 90.76L570.34 91.28M570.93 94.95L570.93 102.30M581.44 96.53L580.86 95.48L579.10 94.95L577.35 94.95L575.60 95.48L575.02 96.53L575.60 97.58L576.77 98.10L579.69 98.63L580.86 99.15L581.44 100.20L581.44 100.73L580.86 101.78L579.10 102.30L577.35 102.30L575.60 101.78L575.02 100.73M591.95 96.53L590.78 95.48L589.62 94.95L587.86 94.95L586.70 95.48L585.53 96.53L584.94 98.10L584.94 99.15L585.53 100.73L586.70 101.78L587.86 102.30L589.62 102.30L590.78 101.78L591.95 100.73M596.04 91.28L596.04 102.30M596.04 91.28L600.71 102.30M605.38 91.28L600.71 102.30M605.38 91.28L605.38 102.30M611.22 93.38L612.39 92.85L614.14 91.28L614.14 102.30M622.90 93.38L624.07 92.85L625.83 91.28L625.83 102.30" fill="none" stroke="#000" stroke-width="1.75" stroke-linecap="square" stroke-linejoin="round"/>
<path d="M510.77 111.68L510.77 122.70M510.77 111.68L515.36 122.70M519.95 111.68L515.36 122.70M519.95 111.68L519.95 122.70M533.71 109.58L523.39 126.37M537.16 111.68L537.16 122.70M537.16 122.70L544.04 122.70M556.08 111.68L556.08 122.70M556.08 111.68L560.67 122.70M565.26 111.68L560.67 122.70M565.26 111.68L565.26 122.70M569.27 118.50L576.15 118.50L576.15 117.45L575.58 116.40L575.00 115.88L573.86 115.35L572.14 115.35L570.99 115.88L569.84 116.93L569.27 118.50L569.27 119.55L569.84 121.13L570.99 122.18L572.14 122.70L573.86 122.70L575.00 122.18L576.15 121.13M580.17 115.35L580.17 122.70M580.17 117.45L581.89 115.88L583.03 115.35L584.75 115.35L585.90 115.88L586.47 117.45L586.47 122.70M597.37 111.68L597.37 122.70M597.37 116.93L596.22 115.88L595.08 115.35L593.36 115.35L592.21 115.88L591.06 116.93L590.49 118.50L590.49 119.55L591.06 121.13L592.21 122.18L593.36 122.70L595.08 122.70L596.22 122.18L597.37 121.13M601.39 118.50L608.27 118.50L608.27 117.45L607.69 116.40L607.12 115.88L605.97 115.35L604.25 115.35L603.11 115.88L601.96 116.93L601.39 118.50L601.39 119.55L601.96 121.13L603.11 122.18L604.25 122.70L605.97 122.70L607.12 122.18L608.27 121.13M612.28 111.68L612.28 122.70M618.02 113.78L619.16 113.25L620.88 111.68L620.88 122.70M633.50 111.68L627.77 119.03L636.37 119.03M633.50 111.68L633.50 122.70M648.98 117.98L659.31 117.98M673.07 111.68L673.07 122.70M673.07 111.68L677.08 111.68L678.81 112.20L679.95 113.25L680.53 114.30L681.10 115.88L681.10 118.50L680.53 120.08L679.95 121.13L678.81 122.18L677.08 122.70L673.07 122.70M685.11 115.35L685.11 120.60L685.69 122.18L686.83 122.70L688.55 122.70L689.70 122.18L691.42 120.60M691.42 115.35L691.42 122.70M701.74 116.93L701.17 115.88L699.45 115.35L697.73 115.35L696.01 115.88L695.44 116.93L696.01 117.98L697.16 118.50L700.02 119.03L701.17 119.55L701.74 120.60L701.74 121.13L701.17 122.18L699.45 122.70L697.73 122.70L696.01 122.18L695.44 121.13M706.33 111.68L706.33 120.60L706.91 122.18L708.05 122.70L709.20 122.70M704.61 115.35L708.63 115.35M721.82 111.68L721.82 122.70M721.82 111.68L729.27 111.68M721.82 116.93L726.40 116.93M732.14 115.35L732.14 122.70M732.14 118.50L732.71 116.93L733.86 115.88L735.01 115.35L736.73 115.35M739.02 118.50L745.90 118.50L745.90 117.45L745.33 116.40L744.76 115.88L743.61 115.35L741.89 115.35L740.74 115.88L739.59 116.93L739.02 118.50L739.02 119.55L739.59 121.13L740.74 122.18L741.89 122.70L743.61 122.70L744.76 122.18L745.90 121.13M749.34 118.50L756.23 118.50L756.23 117.45L755.65 116.40L755.08 115.88L753.93 115.35L752.21 115.35L751.06 115.88L749.92 116.93L749.34 118.50L749.34 119.55L749.92 121.13L751.06 122.18L752.21 122.70L753.93 122.70L755.08 122.18L756.23 121.13" fill="none" stroke="#000" stroke-width="1.75" stroke-linecap="square" stroke-linejoin="round"/>
<path d="M510.77 132.18L510.77 143.20M510.77 132.18L515.35 143.20M519.93 132.18L515.35 143.20M519.93 132.18L519.93 143.20M533.65 130.08L523.36 146.87M537.09 132.18L537.09 143.20M537.09 143.20L543.95 143.20M555.96 132.18L555.96 143.20M555.96 132.18L560.54 143.20M565.11 132.18L560.54 143.20M565.11 132.18L565.11 143.20M569.12 139.00L575.98 139.00L575.98 137.95L575.41 136.90L574.83 136.38L573.69 135.85L571.97 135.85L570.83 136.38L569.69 137.43L569.12 139.00L569.12 140.05L569.69 141.63L570.83 142.68L571.97 143.20L573.69 143.20L574.83 142.68L575.98 141.63M579.98 135.85L579.98 143.20M579.98 137.95L581.70 136.38L582.84 135.85L584.56 135.85L585.70 136.38L586.27 137.95L586.27 143.20M597.14 132.18L597.14 143.20M597.14 137.43L596.00 136.38L594.85 135.85L593.14 135.85L591.99 136.38L590.85 137.43L590.28 139.00L590.28 140.05L590.85 141.63L591.99 142.68L593.14 143.20L594.85 143.20L596.00 142.68L597.14 141.63M601.14 139.00L608.01 139.00L608.01 137.95L607.44 136.90L606.86 136.38L605.72 135.85L604.00 135.85L602.86 136.38L601.72 137.43L601.14 139.00L601.14 140.05L601.72 141.63L602.86 142.68L604.00 143.20L605.72 143.20L606.86 142.68L608.01 141.63M612.01 132.18L612.01 143.20M617.73 134.28L618.88 133.75L620.59 132.18L620.59 143.20M633.17 132.18L627.46 139.53L636.03 139.53M633.17 132.18L633.17 143.20M648.62 138.48L658.91 138.48M672.64 132.18L672.64 143.20M672.64 132.18L676.64 132.18L678.36 132.70L679.50 133.75L680.08 134.80L680.65 136.38L680.65 139.00L680.08 140.58L679.50 141.63L678.36 142.68L676.64 143.20L672.64 143.20M684.65 135.85L684.65 141.10L685.22 142.68L686.37 143.20L688.08 143.20L689.23 142.68L690.94 141.10M690.94 135.85L690.94 143.20M701.24 137.43L700.67 136.38L698.95 135.85L697.23 135.85L695.52 136.38L694.95 137.43L695.52 138.48L696.66 139.00L699.52 139.53L700.67 140.05L701.24 141.10L701.24 141.63L700.67 142.68L698.95 143.20L697.23 143.20L695.52 142.68L694.95 141.63M705.81 132.18L705.81 141.10L706.39 142.68L707.53 143.20L708.67 143.20M704.10 135.85L708.10 135.85M710.96 135.85L714.39 143.20M717.83 135.85L714.39 143.20L713.25 145.30L712.11 146.35L710.96 146.87L710.39 146.87" fill="none" stroke="#000" stroke-width="1.75" stroke-linecap="square" stroke-linejoin="round"/>
<path d="M195.38 264.48L195.38 275.50M195.38 264.48L200.04 275.50M204.70 264.48L200.04 275.50M204.70 264.48L204.70 275.50M218.69 262.38L208.20 279.17M222.19 264.48L222.19 275.50M222.19 275.50L229.18 275.50M245.50 262.38L244.34 263.43L243.17 265.00L242.00 267.10L241.42 269.73L241.42 271.83L242.00 274.45L243.17 276.55L244.34 278.12L245.50 279.17M249.58 264.48L249.58 275.50M249.58 264.48L254.24 275.50M258.91 264.48L254.24 275.50M258.91 264.48L258.91 275.50M263.57 264.48L263.57 275.50M263.57 264.48L268.82 264.48L270.56 265.00L271.15 265.53L271.73 266.58L271.73 268.15L271.15 269.20L270.56 269.73L268.82 270.25L263.57 270.25M278.72 264.48L274.06 275.50M278.72 264.48L283.39 275.50M275.81 271.83L281.64 271.83M286.30 270.78L296.79 270.78M306.12 264.48L306.12 272.88L305.54 274.45L304.95 274.98L303.79 275.50L302.62 275.50L301.46 274.98L300.87 274.45L300.29 272.88L300.29 271.83M310.78 264.48L310.78 275.50M318.94 264.48L318.94 275.50M310.78 269.73L318.94 269.73M323.60 264.48L323.60 272.35L324.19 273.93L325.35 274.98L327.10 275.50L328.27 275.50L330.02 274.98L331.18 273.93L331.76 272.35L331.76 264.48M335.84 262.38L337.01 263.43L338.18 265.00L339.34 267.10L339.92 269.73L339.92 271.83L339.34 274.45L338.18 276.55L337.01 278.12L335.84 279.17" fill="none" stroke="#000" stroke-width="1.75" stroke-linecap="square" stroke-linejoin="round"/>
<path d="M238.07 295.08L238.07 306.10M238.07 295.08L242.12 295.08L243.85 295.60L245.00 296.65L245.58 297.70L246.16 299.28L246.16 301.90L245.58 303.48L245.00 304.53L243.85 305.58L242.12 306.10L238.07 306.10M250.20 295.08L250.20 298.75M262.32 296.65L261.16 295.60L259.43 295.08L257.12 295.08L255.39 295.60L254.24 296.65L254.24 297.70L254.82 298.75L255.39 299.28L256.55 299.80L260.01 300.85L261.16 301.38L261.74 301.90L262.32 302.95L262.32 304.53L261.16 305.58L259.43 306.10L257.12 306.10L255.39 305.58L254.24 304.53M268.67 298.75L267.51 299.28L266.36 300.33L265.78 301.90L265.78 302.95L266.36 304.53L267.51 305.58L268.67 306.10L270.40 306.10L271.56 305.58L272.71 304.53L273.29 302.95L273.29 301.90L272.71 300.33L271.56 299.28L270.40 298.75L268.67 298.75M277.33 298.75L277.33 304.00L277.90 305.58L279.06 306.10L280.79 306.10L281.95 305.58L283.68 304.00M283.68 298.75L283.68 306.10M294.07 298.75L287.72 306.10M287.72 298.75L294.07 298.75M287.72 306.10L294.07 306.10M304.46 298.75L304.46 306.10M304.46 300.33L303.30 299.28L302.15 298.75L300.42 298.75L299.26 299.28L298.11 300.33L297.53 301.90L297.53 302.95L298.11 304.53L299.26 305.58L300.42 306.10L302.15 306.10L303.30 305.58L304.46 304.53M310.23 297.18L311.38 296.65L313.12 295.08L313.12 306.10M326.97 295.08L321.20 295.08L320.62 299.80L321.20 299.28L322.93 298.75L324.66 298.75L326.39 299.28L327.55 300.33L328.12 301.90L328.12 302.95L327.55 304.53L326.39 305.58L324.66 306.10L322.93 306.10L321.20 305.58L320.62 305.05L320.04 304.00" fill="none" stroke="#000" stroke-width="1.75" stroke-linecap="square" stroke-linejoin="round"/>
<path d="M246.09 317.45L244.95 316.40L243.23 315.88L240.94 315.88L239.22 316.40L238.07 317.45L238.07 318.50L238.65 319.55L239.22 320.08L240.37 320.60L243.80 321.65L244.95 322.18L245.52 322.70L246.09 323.75L246.09 325.33L244.95 326.38L243.23 326.90L240.94 326.90L239.22 326.38L238.07 325.33M249.53 322.70L256.40 322.70L256.40 321.65L255.83 320.60L255.26 320.08L254.11 319.55L252.40 319.55L251.25 320.08L250.10 321.13L249.53 322.70L249.53 323.75L250.10 325.33L251.25 326.38L252.40 326.90L254.11 326.90L255.26 326.38L256.40 325.33M260.41 319.55L260.41 326.90M260.41 322.70L260.99 321.13L262.13 320.08L263.28 319.55L265.00 319.55M267.86 315.88L267.86 326.90M267.86 315.88L275.31 315.88M267.86 321.13L272.44 321.13M267.86 326.90L275.31 326.90M278.17 319.55L284.47 326.90M284.47 319.55L278.17 326.90M288.48 319.55L288.48 330.57M288.48 321.13L289.63 320.08L290.77 319.55L292.49 319.55L293.64 320.08L294.78 321.13L295.36 322.70L295.36 323.75L294.78 325.33L293.64 326.38L292.49 326.90L290.77 326.90L289.63 326.38L288.48 325.33M308.53 315.88L308.53 326.90M308.53 326.90L315.40 326.90M331.44 313.78L330.30 314.83L329.15 316.40L328.01 318.50L327.43 321.13L327.43 323.23L328.01 325.85L329.15 327.95L330.30 329.52L331.44 330.57M335.45 315.88L335.45 326.90M335.45 315.88L340.61 315.88L342.33 316.40L342.90 316.93L343.47 317.98L343.47 319.03L342.90 320.08L342.33 320.60L340.61 321.13M335.45 321.13L340.61 321.13L342.33 321.65L342.90 322.18L343.47 323.23L343.47 324.80L342.90 325.85L342.33 326.38L340.61 326.90L335.45 326.90M348.63 317.98L349.77 317.45L351.49 315.88L351.49 326.90M359.51 315.88L365.81 315.88L362.37 320.08L364.09 320.08L365.24 320.60L365.81 321.13L366.38 322.70L366.38 323.75L365.81 325.33L364.67 326.38L362.95 326.90L361.23 326.90L359.51 326.38L358.94 325.85L358.36 324.80M370.39 322.18L380.70 322.18M385.29 315.88L385.29 326.90M385.29 315.88L389.87 326.90M394.45 315.88L389.87 326.90M394.45 315.88L394.45 326.90M398.46 322.70L405.34 322.70L405.34 321.65L404.76 320.60L404.19 320.08L403.04 319.55L401.33 319.55L400.18 320.08L399.03 321.13L398.46 322.70L398.46 323.75L399.03 325.33L400.18 326.38L401.33 326.90L403.04 326.90L404.19 326.38L405.34 325.33M408.77 322.70L415.65 322.70L415.65 321.65L415.07 320.60L414.50 320.08L413.35 319.55L411.64 319.55L410.49 320.08L409.34 321.13L408.77 322.70L408.77 323.75L409.34 325.33L410.49 326.38L411.64 326.90L413.35 326.90L414.50 326.38L415.65 325.33M419.66 319.55L419.66 326.90M419.66 322.70L420.23 321.13L421.37 320.08L422.52 319.55L424.24 319.55M427.67 315.88L427.67 324.80L428.25 326.38L429.39 326.90L430.54 326.90M425.96 319.55L429.97 319.55M435.12 317.98L436.27 317.45L437.99 315.88L437.99 326.90M451.73 315.88L446.00 315.88L445.43 320.60L446.00 320.08L447.72 319.55L449.44 319.55L451.16 320.08L452.31 321.13L452.88 322.70L452.88 323.75L452.31 325.33L451.16 326.38L449.44 326.90L447.72 326.90L446.00 326.38L445.43 325.85L444.86 324.80M456.32 313.78L457.46 314.83L458.61 316.40L459.75 318.50L460.33 321.13L460.33 323.23L459.75 325.85L458.61 327.95L457.46 329.52L456.32 330.57" fill="none" stroke="#000" stroke-width="1.75" stroke-linecap="square" stroke-linejoin="round"/>
<path d="M246.10 337.75L244.95 336.70L243.23 336.18L240.94 336.18L239.22 336.70L238.07 337.75L238.07 338.80L238.65 339.85L239.22 340.38L240.37 340.90L243.81 341.95L244.95 342.48L245.52 343.00L246.10 344.05L246.10 345.63L244.95 346.68L243.23 347.20L240.94 347.20L239.22 346.68L238.07 345.63M249.54 343.00L256.41 343.00L256.41 341.95L255.84 340.90L255.27 340.38L254.12 339.85L252.40 339.85L251.26 340.38L250.11 341.43L249.54 343.00L249.54 344.05L250.11 345.63L251.26 346.68L252.40 347.20L254.12 347.20L255.27 346.68L256.41 345.63M260.42 339.85L260.42 347.20M260.42 343.00L261.00 341.43L262.14 340.38L263.29 339.85L265.01 339.85M267.87 336.18L267.87 347.20M267.87 336.18L275.32 336.18M267.87 341.43L272.46 341.43M267.87 347.20L275.32 347.20M278.19 339.85L284.49 347.20M284.49 339.85L278.19 347.20M288.51 339.85L288.51 350.87M288.51 341.43L289.65 340.38L290.80 339.85L292.52 339.85L293.66 340.38L294.81 341.43L295.38 343.00L295.38 344.05L294.81 345.63L293.66 346.68L292.52 347.20L290.80 347.20L289.65 346.68L288.51 345.63M308.56 336.18L308.56 347.20M308.56 347.20L315.44 347.20M331.49 334.08L330.34 335.13L329.19 336.70L328.05 338.80L327.47 341.43L327.47 343.53L328.05 346.15L329.19 348.25L330.34 349.82L331.49 350.87M335.50 336.18L335.50 347.20M335.50 336.18L340.65 336.18L342.37 336.70L342.95 337.23L343.52 338.28L343.52 339.33L342.95 340.38L342.37 340.90L340.65 341.43M335.50 341.43L340.65 341.43L342.37 341.95L342.95 342.48L343.52 343.53L343.52 345.10L342.95 346.15L342.37 346.68L340.65 347.20L335.50 347.20M348.68 338.28L349.82 337.75L351.54 336.18L351.54 347.20M359.57 336.18L365.87 336.18L362.43 340.38L364.15 340.38L365.30 340.90L365.87 341.43L366.44 343.00L366.44 344.05L365.87 345.63L364.72 346.68L363.00 347.20L361.28 347.20L359.57 346.68L358.99 346.15L358.42 345.10M370.45 342.48L380.77 342.48M385.35 336.18L385.35 347.20M385.35 336.18L389.94 347.20M394.52 336.18L389.94 347.20M394.52 336.18L394.52 347.20M398.53 343.00L405.41 343.00L405.41 341.95L404.84 340.90L404.26 340.38L403.12 339.85L401.40 339.85L400.25 340.38L399.11 341.43L398.53 343.00L398.53 344.05L399.11 345.63L400.25 346.68L401.40 347.20L403.12 347.20L404.26 346.68L405.41 345.63M408.85 343.00L415.73 343.00L415.73 341.95L415.15 340.90L414.58 340.38L413.43 339.85L411.71 339.85L410.57 340.38L409.42 341.43L408.85 343.00L408.85 344.05L409.42 345.63L410.57 346.68L411.71 347.20L413.43 347.20L414.58 346.68L415.73 345.63M419.74 339.85L419.74 347.20M419.74 343.00L420.31 341.43L421.46 340.38L422.60 339.85L424.32 339.85M427.76 336.18L427.76 345.10L428.33 346.68L429.48 347.20L430.63 347.20M426.04 339.85L430.05 339.85M435.21 338.28L436.36 337.75L438.08 336.18L438.08 347.20M451.83 336.18L446.10 336.18L445.53 340.90L446.10 340.38L447.82 339.85L449.54 339.85L451.26 340.38L452.40 341.43L452.98 343.00L452.98 344.05L452.40 345.63L451.26 346.68L449.54 347.20L447.82 347.20L446.10 346.68L445.53 346.15L444.95 345.10M456.41 334.08L457.56 335.13L458.71 336.70L459.85 338.80L460.43 341.43L460.43 343.53L459.85 346.15L458.71 348.25L457.56 349.82L456.41 350.87M474.18 336.18L474.18 347.20M478.76 339.85L478.76 347.20M478.76 341.95L480.48 340.38L481.63 339.85L483.35 339.85L484.49 340.38L485.07 341.95L485.07 347.20M490.23 336.18L490.23 345.10L490.80 346.68L491.94 347.20L493.09 347.20M488.51 339.85L492.52 339.85M496.53 339.85L496.53 347.20M496.53 343.00L497.10 341.43L498.25 340.38L499.39 339.85L501.11 339.85M504.55 346.15L503.98 346.68L504.55 347.20L505.12 346.68L504.55 346.15" fill="none" stroke="#000" stroke-width="1.75" stroke-linecap="square" stroke-linejoin="round"/>
<path d="M244.96 362.23L243.81 361.18L242.66 360.65L240.94 360.65L239.80 361.18L238.65 362.23L238.07 363.80L238.07 364.85L238.65 366.43L239.80 367.48L240.94 368.00L242.66 368.00L243.81 367.48L244.96 366.43M248.97 356.98L248.97 368.00M248.97 356.98L253.56 368.00M258.15 356.98L253.56 368.00M258.15 356.98L258.15 368.00M265.03 360.65L263.88 361.18L262.73 362.23L262.16 363.80L262.16 364.85L262.73 366.43L263.88 367.48L265.03 368.00L266.75 368.00L267.90 367.48L269.04 366.43L269.62 364.85L269.62 363.80L269.04 362.23L267.90 361.18L266.75 360.65L265.03 360.65M279.94 356.98L279.94 368.00M279.94 362.23L278.79 361.18L277.64 360.65L275.92 360.65L274.78 361.18L273.63 362.23L273.06 363.80L273.06 364.85L273.63 366.43L274.78 367.48L275.92 368.00L277.64 368.00L278.79 367.48L279.94 366.43M283.95 363.80L290.84 363.80L290.84 362.75L290.26 361.70L289.69 361.18L288.54 360.65L286.82 360.65L285.67 361.18L284.53 362.23L283.95 363.80L283.95 364.85L284.53 366.43L285.67 367.48L286.82 368.00L288.54 368.00L289.69 367.48L290.84 366.43M294.85 356.98L294.85 368.00M308.61 356.98L308.61 368.00M308.61 368.00L315.49 368.00M331.55 354.88L330.41 355.93L329.26 357.50L328.11 359.60L327.54 362.23L327.54 364.33L328.11 366.95L329.26 369.05L330.41 370.62L331.55 371.67M343.02 358.55L341.87 357.50L340.15 356.98L337.86 356.98L336.14 357.50L334.99 358.55L334.99 359.60L335.57 360.65L336.14 361.18L337.29 361.70L340.73 362.75L341.87 363.28L342.45 363.80L343.02 364.85L343.02 366.43L341.87 367.48L340.15 368.00L337.86 368.00L336.14 367.48L334.99 366.43M347.04 356.98L347.04 368.00M347.04 356.98L351.05 356.98L352.77 357.50L353.92 358.55L354.49 359.60L355.06 361.18L355.06 363.80L354.49 365.38L353.92 366.43L352.77 367.48L351.05 368.00L347.04 368.00M366.53 358.55L365.39 357.50L363.67 356.98L361.37 356.98L359.65 357.50L358.51 358.55L358.51 359.60L359.08 360.65L359.65 361.18L360.80 361.70L364.24 362.75L365.39 363.28L365.96 363.80L366.53 364.85L366.53 366.43L365.39 367.48L363.67 368.00L361.37 368.00L359.65 367.48L358.51 366.43M378.00 358.55L376.86 357.50L375.14 356.98L372.84 356.98L371.12 357.50L369.98 358.55L369.98 359.60L370.55 360.65L371.12 361.18L372.27 361.70L375.71 362.75L376.86 363.28L377.43 363.80L378.00 364.85L378.00 366.43L376.86 367.48L375.14 368.00L372.84 368.00L371.12 367.48L369.98 366.43M382.02 363.28L392.34 363.28M396.93 356.98L396.93 368.00M396.93 356.98L400.94 356.98L402.66 357.50L403.81 358.55L404.38 359.60L404.96 361.18L404.96 363.80L404.38 365.38L403.81 366.43L402.66 367.48L400.94 368.00L396.93 368.00M408.97 356.98L408.97 368.00M408.97 356.98L414.13 356.98L415.85 357.50L416.43 358.03L417.00 359.08L417.00 360.13L416.43 361.18L415.85 361.70L414.13 362.23L408.97 362.23M412.99 362.23L417.00 368.00M427.90 360.65L427.32 362.23L426.18 363.28L424.46 363.80L423.88 363.80L422.16 363.28L421.01 362.23L420.44 360.65L420.44 360.13L421.01 358.55L422.16 357.50L423.88 356.98L424.46 356.98L426.18 357.50L427.32 358.55L427.90 360.65L427.90 363.28L427.32 365.90L426.18 367.48L424.46 368.00L423.31 368.00L421.59 367.48L421.01 366.43M431.91 354.88L433.06 355.93L434.20 357.50L435.35 359.60L435.93 362.23L435.93 364.33L435.35 366.95L434.20 369.05L433.06 370.62L431.91 371.67" fill="none" stroke="#000" stroke-width="1.75" stroke-linecap="square" stroke-linejoin="round"/>
<path d="M195.38 418.68L195.38 429.70M195.38 418.68L200.01 429.70M204.64 418.68L200.01 429.70M204.64 418.68L204.64 429.70M218.55 416.58L208.12 433.37M222.03 418.68L222.03 429.70M222.03 429.70L228.98 429.70M245.20 416.58L244.04 417.63L242.88 419.20L241.72 421.30L241.14 423.93L241.14 426.03L241.72 428.65L242.88 430.75L244.04 432.32L245.20 433.37M249.26 418.68L249.26 429.70M249.26 418.68L254.47 418.68L256.21 419.20L256.79 419.73L257.37 420.78L257.37 421.83L256.79 422.88L256.21 423.40L254.47 423.93M249.26 423.93L254.47 423.93L256.21 424.45L256.79 424.98L257.37 426.03L257.37 427.60L256.79 428.65L256.21 429.18L254.47 429.70L249.26 429.70M261.42 418.68L261.42 429.70M272.43 422.35L272.43 429.70M272.43 423.93L271.27 422.88L270.11 422.35L268.37 422.35L267.22 422.88L266.06 423.93L265.48 425.50L265.48 426.55L266.06 428.13L267.22 429.18L268.37 429.70L270.11 429.70L271.27 429.18L272.43 428.13M277.07 422.35L277.07 429.70M277.07 424.45L278.80 422.88L279.96 422.35L281.70 422.35L282.86 422.88L283.44 424.45L283.44 429.70M288.65 418.68L288.65 427.60L289.23 429.18L290.39 429.70L291.55 429.70M286.91 422.35L290.97 422.35M297.34 422.35L296.18 422.88L295.03 423.93L294.45 425.50L294.45 426.55L295.03 428.13L296.18 429.18L297.34 429.70L299.08 429.70L300.24 429.18L301.40 428.13L301.98 426.55L301.98 425.50L301.40 423.93L300.24 422.88L299.08 422.35L297.34 422.35M306.03 422.35L306.03 429.70M306.03 424.45L307.77 422.88L308.93 422.35L310.67 422.35L311.83 422.88L312.41 424.45L312.41 429.70M317.04 418.68L317.04 429.70M317.04 418.68L322.26 418.68L323.99 419.20L324.57 419.73L325.15 420.78L325.15 421.83L324.57 422.88L323.99 423.40L322.26 423.93L317.04 423.93M321.10 423.93L325.15 429.70M331.53 422.35L330.37 422.88L329.21 423.93L328.63 425.50L328.63 426.55L329.21 428.13L330.37 429.18L331.53 429.70L333.26 429.70L334.42 429.18L335.58 428.13L336.16 426.55L336.16 425.50L335.58 423.93L334.42 422.88L333.26 422.35L331.53 422.35M339.64 422.35L341.95 429.70M344.27 422.35L341.95 429.70M344.27 422.35L346.59 429.70M348.91 422.35L346.59 429.70M352.38 425.50L359.33 425.50L359.33 424.45L358.76 423.40L358.18 422.88L357.02 422.35L355.28 422.35L354.12 422.88L352.96 423.93L352.38 425.50L352.38 426.55L352.96 428.13L354.12 429.18L355.28 429.70L357.02 429.70L358.18 429.18L359.33 428.13M362.81 418.68L363.39 419.20L363.97 418.68L363.39 418.16L362.81 418.68M363.39 422.35L363.39 429.70M373.82 423.93L373.24 422.88L371.50 422.35L369.76 422.35L368.03 422.88L367.45 423.93L368.03 424.98L369.18 425.50L372.08 426.03L373.24 426.55L373.82 427.60L373.82 428.13L373.24 429.18L371.50 429.70L369.76 429.70L368.03 429.18L367.45 428.13M380.77 418.68L379.03 419.20L377.87 420.78L377.29 423.40L377.29 424.98L377.87 427.60L379.03 429.18L380.77 429.70L381.93 429.70L383.67 429.18L384.83 427.60L385.41 424.98L385.41 423.40L384.83 420.78L383.67 419.20L381.93 418.68L380.77 418.68M396.99 418.68L391.20 429.70M388.88 418.68L396.99 418.68M400.47 416.58L401.63 417.63L402.79 419.20L403.95 421.30L404.53 423.93L404.53 426.03L403.95 428.65L402.79 430.75L401.63 432.32L400.47 433.37" fill="none" stroke="#000" stroke-width="1.75" stroke-linecap="square" stroke-linejoin="round"/>
<path d="M244.96 454.03L243.81 452.98L242.66 452.45L240.94 452.45L239.80 452.98L238.65 454.03L238.07 455.60L238.07 456.65L238.65 458.23L239.80 459.28L240.94 459.80L242.66 459.80L243.81 459.28L244.96 458.23M248.97 448.78L248.97 459.80M248.97 448.78L253.56 459.80M258.15 448.78L253.56 459.80M258.15 448.78L258.15 459.80M265.03 452.45L263.88 452.98L262.73 454.03L262.16 455.60L262.16 456.65L262.73 458.23L263.88 459.28L265.03 459.80L266.75 459.80L267.90 459.28L269.04 458.23L269.62 456.65L269.62 455.60L269.04 454.03L267.90 452.98L266.75 452.45L265.03 452.45M279.94 448.78L279.94 459.80M279.94 454.03L278.79 452.98L277.64 452.45L275.92 452.45L274.78 452.98L273.63 454.03L273.06 455.60L273.06 456.65L273.63 458.23L274.78 459.28L275.92 459.80L277.64 459.80L278.79 459.28L279.94 458.23M283.95 455.60L290.84 455.60L290.84 454.55L290.26 453.50L289.69 452.98L288.54 452.45L286.82 452.45L285.67 452.98L284.53 454.03L283.95 455.60L283.95 456.65L284.53 458.23L285.67 459.28L286.82 459.80L288.54 459.80L289.69 459.28L290.84 458.23M294.85 448.78L294.85 459.80M308.61 448.78L308.61 459.80M308.61 459.80L315.49 459.80M331.55 446.68L330.41 447.73L329.26 449.30L328.11 451.40L327.54 454.03L327.54 456.13L328.11 458.75L329.26 460.85L330.41 462.42L331.55 463.47M343.02 450.35L341.87 449.30L340.15 448.78L337.86 448.78L336.14 449.30L334.99 450.35L334.99 451.40L335.57 452.45L336.14 452.98L337.29 453.50L340.73 454.55L341.87 455.08L342.45 455.60L343.02 456.65L343.02 458.23L341.87 459.28L340.15 459.80L337.86 459.80L336.14 459.28L334.99 458.23M347.04 448.78L347.04 459.80M347.04 448.78L351.05 448.78L352.77 449.30L353.92 450.35L354.49 451.40L355.06 452.98L355.06 455.60L354.49 457.18L353.92 458.23L352.77 459.28L351.05 459.80L347.04 459.80M366.53 450.35L365.39 449.30L363.67 448.78L361.37 448.78L359.65 449.30L358.51 450.35L358.51 451.40L359.08 452.45L359.65 452.98L360.80 453.50L364.24 454.55L365.39 455.08L365.96 455.60L366.53 456.65L366.53 458.23L365.39 459.28L363.67 459.80L361.37 459.80L359.65 459.28L358.51 458.23M378.00 450.35L376.86 449.30L375.14 448.78L372.84 448.78L371.12 449.30L369.98 450.35L369.98 451.40L370.55 452.45L371.12 452.98L372.27 453.50L375.71 454.55L376.86 455.08L377.43 455.60L378.00 456.65L378.00 458.23L376.86 459.28L375.14 459.80L372.84 459.80L371.12 459.28L369.98 458.23M382.02 455.08L392.34 455.08M396.93 448.78L396.93 459.80M396.93 448.78L400.94 448.78L402.66 449.30L403.81 450.35L404.38 451.40L404.96 452.98L404.96 455.60L404.38 457.18L403.81 458.23L402.66 459.28L400.94 459.80L396.93 459.80M408.97 448.78L408.97 459.80M408.97 448.78L414.13 448.78L415.85 449.30L416.43 449.83L417.00 450.88L417.00 451.93L416.43 452.98L415.85 453.50L414.13 454.03L408.97 454.03M412.99 454.03L417.00 459.80M427.90 452.45L427.32 454.03L426.18 455.08L424.46 455.60L423.88 455.60L422.16 455.08L421.01 454.03L420.44 452.45L420.44 451.93L421.01 450.35L422.16 449.30L423.88 448.78L424.46 448.78L426.18 449.30L427.32 450.35L427.90 452.45L427.90 455.08L427.32 457.70L426.18 459.28L424.46 459.80L423.31 459.80L421.59 459.28L421.01 458.23M431.91 446.68L433.06 447.73L434.20 449.30L435.35 451.40L435.93 454.03L435.93 456.13L435.35 458.75L434.20 460.85L433.06 462.42L431.91 463.47" fill="none" stroke="#000" stroke-width="1.75" stroke-linecap="square" stroke-linejoin="round"/>
<path d="M238.07 478.58L238.07 489.60M238.07 478.58L243.25 478.58L244.97 479.10L245.55 479.63L246.12 480.68L246.12 482.25L245.55 483.30L244.97 483.83L243.25 484.35L238.07 484.35M249.57 485.40L256.47 485.40L256.47 484.35L255.89 483.30L255.32 482.78L254.17 482.25L252.45 482.25L251.30 482.78L250.15 483.83L249.57 485.40L249.57 486.45L250.15 488.03L251.30 489.08L252.45 489.60L254.17 489.60L255.32 489.08L256.47 488.03M261.07 478.58L261.07 487.50L261.64 489.08L262.79 489.60L263.94 489.60M259.34 482.25L263.37 482.25M267.39 482.25L267.39 489.60M267.39 485.40L267.96 483.83L269.11 482.78L270.26 482.25L271.99 482.25M277.16 482.25L276.01 482.78L274.86 483.83L274.29 485.40L274.29 486.45L274.86 488.03L276.01 489.08L277.16 489.60L278.89 489.60L280.04 489.08L281.19 488.03L281.76 486.45L281.76 485.40L281.19 483.83L280.04 482.78L278.89 482.25L277.16 482.25M291.53 483.83L290.96 482.78L289.23 482.25L287.51 482.25L285.78 482.78L285.21 483.83L285.78 484.88L286.93 485.40L289.81 485.93L290.96 486.45L291.53 487.50L291.53 488.03L290.96 489.08L289.23 489.60L287.51 489.60L285.78 489.08L285.21 488.03M294.98 478.58L295.56 479.10L296.13 478.58L295.56 478.06L294.98 478.58M295.56 482.25L295.56 489.60M306.48 482.25L306.48 489.60M306.48 483.83L305.33 482.78L304.18 482.25L302.45 482.25L301.30 482.78L300.15 483.83L299.58 485.40L299.58 486.45L300.15 488.03L301.30 489.08L302.45 489.60L304.18 489.60L305.33 489.08L306.48 488.03M311.08 482.25L311.08 489.60M311.08 484.35L312.80 482.78L313.95 482.25L315.67 482.25L316.82 482.78L317.40 484.35L317.40 489.60M331.19 478.58L331.19 489.60M331.19 489.60L338.09 489.60M354.19 476.48L353.04 477.53L351.89 479.10L350.74 481.20L350.16 483.83L350.16 485.93L350.74 488.55L351.89 490.65L353.04 492.22L354.19 493.27M358.21 478.58L358.21 489.60M358.21 489.60L365.11 489.60M367.41 478.58L367.98 479.10L368.56 478.58L367.98 478.06L367.41 478.58M367.98 482.25L367.98 489.60M383.50 483.30L383.50 482.78L382.93 482.25L382.35 482.25L381.78 482.78L381.20 483.83L380.05 486.45L378.90 488.03L377.75 489.08L376.60 489.60L374.30 489.60L373.15 489.08L372.58 488.55L372.00 487.50L372.00 486.45L372.58 485.40L373.15 484.88L377.18 482.78L377.75 482.25L378.33 481.20L378.33 480.15L377.75 479.10L376.60 478.58L375.45 479.10L374.88 480.15L374.88 481.20L375.45 482.78L376.60 484.35L379.48 488.03L380.63 489.08L381.78 489.60L382.93 489.60L383.50 489.08L383.50 488.55M386.38 478.58L389.25 489.60M392.12 478.58L389.25 489.60M392.12 478.58L395.00 489.60M397.87 478.58L395.00 489.60M401.32 478.58L401.32 489.60M401.32 484.35L403.04 482.78L404.19 482.25L405.92 482.25L407.07 482.78L407.64 484.35L407.64 489.60M411.67 478.58L412.24 479.10L412.82 478.58L412.24 478.06L411.67 478.58M412.24 482.25L412.24 489.60M417.41 478.58L417.41 487.50L417.99 489.08L419.14 489.60L420.29 489.60M415.69 482.25L419.71 482.25M423.16 485.40L430.06 485.40L430.06 484.35L429.49 483.30L428.91 482.78L427.76 482.25L426.04 482.25L424.89 482.78L423.74 483.83L423.16 485.40L423.16 486.45L423.74 488.03L424.89 489.08L426.04 489.60L427.76 489.60L428.91 489.08L430.06 488.03M436.96 478.58L435.23 479.10L434.08 480.68L433.51 483.30L433.51 484.88L434.08 487.50L435.23 489.08L436.96 489.60L438.11 489.60L439.83 489.08L440.98 487.50L441.56 484.88L441.56 483.30L440.98 480.68L439.83 479.10L438.11 478.58L436.96 478.58M452.48 482.25L451.90 483.83L450.75 484.88L449.03 485.40L448.45 485.40L446.73 484.88L445.58 483.83L445.01 482.25L445.01 481.73L445.58 480.15L446.73 479.10L448.45 478.58L449.03 478.58L450.75 479.10L451.90 480.15L452.48 482.25L452.48 484.88L451.90 487.50L450.75 489.08L449.03 489.60L447.88 489.60L446.15 489.08L445.58 488.03M456.50 476.48L457.65 477.53L458.80 479.10L459.95 481.20L460.52 483.83L460.52 485.93L459.95 488.55L458.80 490.65L457.65 492.22L456.50 493.27" fill="none" stroke="#000" stroke-width="1.75" stroke-linecap="square" stroke-linejoin="round"/>
<path d="M138.23 534.92L139.95 534.13L142.52 531.77L142.52 548.30M155.39 534.92L157.11 534.13L159.68 531.77L159.68 548.30M171.69 546.73L170.84 547.51L171.69 548.30L172.55 547.51L171.69 546.73M183.70 531.77L181.13 532.56L179.41 534.92L178.56 538.85L178.56 541.22L179.41 545.15L181.13 547.51L183.70 548.30L185.42 548.30L188.00 547.51L189.71 545.15L190.57 541.22L190.57 538.85L189.71 534.92L188.00 532.56L185.42 531.77L183.70 531.77" fill="none" stroke="#000" stroke-width="1.8" stroke-linecap="square" stroke-linejoin="round"/>
<path d="M259.37 534.92L261.09 534.13L263.66 531.77L263.66 548.30M276.53 534.92L278.25 534.13L280.82 531.77L280.82 548.30M292.83 546.73L291.98 547.51L292.83 548.30L293.69 547.51L292.83 546.73M300.56 535.71L300.56 534.92L301.41 533.34L302.27 532.56L303.99 531.77L307.42 531.77L309.14 532.56L309.99 533.34L310.85 534.92L310.85 536.49L309.99 538.07L308.28 540.43L299.70 548.30L311.71 548.30" fill="none" stroke="#000" stroke-width="1.8" stroke-linecap="square" stroke-linejoin="round"/>
<path d="M380.08 534.92L381.80 534.13L384.37 531.77L384.37 548.30M397.24 534.92L398.96 534.13L401.53 531.77L401.53 548.30M413.54 546.73L412.69 547.51L413.54 548.30L414.40 547.51L413.54 546.73M428.99 531.77L420.41 542.79L433.28 542.79M428.99 531.77L428.99 548.30" fill="none" stroke="#000" stroke-width="1.8" stroke-linecap="square" stroke-linejoin="round"/>
<path d="M501.65 534.92L503.37 534.13L505.94 531.77L505.94 548.30M518.81 534.92L520.53 534.13L523.10 531.77L523.10 548.30M535.11 546.73L534.25 547.51L535.11 548.30L535.97 547.51L535.11 546.73M553.13 534.13L552.27 532.56L549.70 531.77L547.98 531.77L545.41 532.56L543.69 534.92L542.84 538.85L542.84 542.79L543.69 545.94L545.41 547.51L547.98 548.30L548.84 548.30L551.42 547.51L553.13 545.94L553.99 543.58L553.99 542.79L553.13 540.43L551.42 538.85L548.84 538.07L547.98 538.07L545.41 538.85L543.69 540.43L542.84 542.79" fill="none" stroke="#000" stroke-width="1.8" stroke-linecap="square" stroke-linejoin="round"/>
<path d="M622.79 534.92L624.51 534.13L627.08 531.77L627.08 548.30M639.95 534.92L641.67 534.13L644.24 531.77L644.24 548.30M656.25 546.73L655.40 547.51L656.25 548.30L657.11 547.51L656.25 546.73M667.41 531.77L664.83 532.56L663.98 534.13L663.98 535.71L664.83 537.28L666.55 538.07L669.98 538.85L672.56 539.64L674.27 541.22L675.13 542.79L675.13 545.15L674.27 546.73L673.41 547.51L670.84 548.30L667.41 548.30L664.83 547.51L663.98 546.73L663.12 545.15L663.12 542.79L663.98 541.22L665.69 539.64L668.27 538.85L671.70 538.07L673.41 537.28L674.27 535.71L674.27 534.13L673.41 532.56L670.84 531.77L667.41 531.77" fill="none" stroke="#000" stroke-width="1.8" stroke-linecap="square" stroke-linejoin="round"/>
<path d="M743.93 534.92L745.65 534.13L748.22 531.77L748.22 548.30M759.38 535.71L759.38 534.92L760.23 533.34L761.09 532.56L762.81 531.77L766.24 531.77L767.96 532.56L768.81 533.34L769.67 534.92L769.67 536.49L768.81 538.07L767.10 540.43L758.52 548.30L770.53 548.30M777.39 546.73L776.53 547.51L777.39 548.30L778.25 547.51L777.39 546.73M789.40 531.77L786.83 532.56L785.12 534.92L784.26 538.85L784.26 541.22L785.12 545.15L786.83 547.51L789.40 548.30L791.12 548.30L793.70 547.51L795.41 545.15L796.27 541.22L796.27 538.85L795.41 534.92L793.70 532.56L791.12 531.77L789.40 531.77" fill="none" stroke="#000" stroke-width="1.8" stroke-linecap="square" stroke-linejoin="round"/>
<path d="M150.08 401.89L141.50 401.89L140.65 408.97L141.50 408.18L144.08 407.40L146.65 407.40L149.23 408.18L150.94 409.76L151.80 412.12L151.80 413.69L150.94 416.06L149.23 417.63L146.65 418.42L144.08 418.42L141.50 417.63L140.65 416.84L139.79 415.27" fill="none" stroke="#000" stroke-width="1.8" stroke-linecap="square" stroke-linejoin="round"/>
<path d="M150.94 302.41L150.08 300.84L147.51 300.05L145.79 300.05L143.22 300.84L141.50 303.20L140.65 307.14L140.65 311.07L141.50 314.22L143.22 315.80L145.79 316.58L146.65 316.58L149.23 315.80L150.94 314.22L151.80 311.86L151.80 311.07L150.94 308.71L149.23 307.14L146.65 306.35L145.79 306.35L143.22 307.14L141.50 308.71L140.65 311.07" fill="none" stroke="#000" stroke-width="1.8" stroke-linecap="square" stroke-linejoin="round"/>
<path d="M151.80 198.22L143.22 214.75M139.79 198.22L151.80 198.22" fill="none" stroke="#000" stroke-width="1.8" stroke-linecap="square" stroke-linejoin="round"/>
<path d="M144.08 96.39L141.50 97.17L140.65 98.75L140.65 100.32L141.50 101.90L143.22 102.68L146.65 103.47L149.23 104.26L150.94 105.83L151.80 107.41L151.80 109.77L150.94 111.34L150.08 112.13L147.51 112.92L144.08 112.92L141.50 112.13L140.65 111.34L139.79 109.77L139.79 107.41L140.65 105.83L142.36 104.26L144.94 103.47L148.37 102.68L150.08 101.90L150.94 100.32L150.94 98.75L150.08 97.17L147.51 96.39L144.08 96.39" fill="none" stroke="#000" stroke-width="1.8" stroke-linecap="square" stroke-linejoin="round"/>
<path d="M147.71 492.47L139.13 503.49L152.00 503.49M147.71 492.47L147.71 509.00" fill="none" stroke="#000" stroke-width="1.8" stroke-linecap="square" stroke-linejoin="round"/>
<path d="M368.20 566.57L368.20 583.10M368.20 583.10L378.53 583.10M386.27 572.08L384.55 572.87L382.83 574.44L381.97 576.80L381.97 578.38L382.83 580.74L384.55 582.31L386.27 583.10L388.85 583.10L390.57 582.31L392.29 580.74L393.15 578.38L393.15 576.80L392.29 574.44L390.57 572.87L388.85 572.08L386.27 572.08M408.64 572.08L408.64 584.67L407.78 587.04L406.92 587.82L405.20 588.61L402.62 588.61L400.90 587.82M408.64 574.44L406.92 572.87L405.20 572.08L402.62 572.08L400.90 572.87L399.18 574.44L398.32 576.80L398.32 578.38L399.18 580.74L400.90 582.31L402.62 583.10L405.20 583.10L406.92 582.31L408.64 580.74M415.29 579.68L416.35 579.20L417.95 577.73L417.95 587.98M427.56 577.73L425.96 578.22L424.89 579.68L424.36 582.12L424.36 583.59L424.89 586.03L425.96 587.49L427.56 587.98L428.63 587.98L430.23 587.49L431.29 586.03L431.83 583.59L431.83 582.12L431.29 579.68L430.23 578.22L428.63 577.73L427.56 577.73M450.64 566.57L450.64 583.10M450.64 566.57L457.52 583.10M464.41 566.57L457.52 583.10M464.41 566.57L464.41 583.10M472.12 582.27L472.12 588.13M469.45 583.73L474.78 586.66M474.78 583.73L469.45 586.66M493.59 563.42L493.59 588.61M493.59 563.42L499.62 563.42M493.59 588.61L499.62 588.61M505.64 566.57L505.64 583.10M505.64 566.57L512.52 583.10M519.41 566.57L512.52 583.10M519.41 566.57L519.41 583.10M531.92 579.20L530.85 578.22L529.25 577.73L527.12 577.73L525.52 578.22L524.45 579.20L524.45 580.17L524.99 581.15L525.52 581.64L526.59 582.12L529.79 583.10L530.85 583.59L531.39 584.08L531.92 585.05L531.92 586.52L530.85 587.49L529.25 587.98L527.12 587.98L525.52 587.49L524.45 586.52M535.66 581.15L535.66 586.03L536.19 587.49L537.26 587.98L538.86 587.98L539.92 587.49L541.52 586.03M541.52 581.15L541.52 587.98M545.79 581.15L545.79 587.98M545.79 583.10L547.39 581.64L548.46 581.15L550.06 581.15L551.13 581.64L551.66 583.10L551.66 587.98M562.40 563.42L562.40 588.61M556.38 563.42L562.40 563.42M556.38 588.61L562.40 588.61" fill="none" stroke="#000" stroke-width="1.8" stroke-linecap="square" stroke-linejoin="round"/>
<path d="M96.97 472.30L113.50 472.30M113.50 472.30L113.50 461.97M102.48 454.22L103.27 455.94L104.84 457.66L107.20 458.52L108.78 458.52L111.14 457.66L112.71 455.94L113.50 454.22L113.50 451.63L112.71 449.91L111.14 448.19L108.78 447.33L107.20 447.33L104.84 448.19L103.27 449.91L102.48 451.63L102.48 454.22M102.48 431.83L115.07 431.83L117.44 432.69L118.22 433.55L119.01 435.27L119.01 437.85L118.22 439.58M104.84 431.83L103.27 433.55L102.48 435.27L102.48 437.85L103.27 439.58L104.84 441.30L107.20 442.16L108.78 442.16L111.14 441.30L112.71 439.58L113.50 437.85L113.50 435.27L112.71 433.55L111.14 431.83M110.08 425.18L109.60 424.11L108.13 422.51L118.38 422.51M108.13 412.90L108.62 414.50L110.08 415.57L112.52 416.10L113.99 416.10L116.43 415.57L117.89 414.50L118.38 412.90L118.38 411.83L117.89 410.23L116.43 409.16L113.99 408.63L112.52 408.63L110.08 409.16L108.62 410.23L108.13 411.83L108.13 412.90M112.67 373.47L118.53 373.47M114.13 376.14L117.06 370.80M114.13 370.80L117.06 376.14M93.82 345.95L95.40 347.67L97.76 349.39L100.91 351.12L104.84 351.98L107.99 351.98L111.93 351.12L115.07 349.39L117.44 347.67L119.01 345.95M99.33 339.92L106.42 326.14L113.50 339.92M96.97 305.47L113.50 305.47M96.97 305.47L113.50 298.59M96.97 291.70L113.50 298.59M96.97 291.70L113.50 291.70M112.67 283.98L118.53 283.98M114.13 286.65L117.06 281.31M114.13 281.31L117.06 286.65M93.82 277.13L95.40 275.40L97.76 273.68L100.91 271.96L104.84 271.10L107.99 271.10L111.93 271.96L115.07 273.68L117.44 275.40L119.01 277.13M93.82 250.43L119.01 250.43M93.82 250.43L93.82 244.40M119.01 250.43L119.01 244.40M96.97 238.37L113.50 238.37M96.97 238.37L113.50 231.48M96.97 224.59L113.50 231.48M96.97 224.59L113.50 224.59M109.60 212.07L108.62 213.14L108.13 214.74L108.13 216.88L108.62 218.48L109.60 219.55L110.57 219.55L111.55 219.01L112.04 218.48L112.52 217.41L113.50 214.21L113.99 213.14L114.48 212.61L115.45 212.07L116.92 212.07L117.89 213.14L118.38 214.74L118.38 216.88L117.89 218.48L116.92 219.55M111.55 208.34L116.43 208.34L117.89 207.80L118.38 206.73L118.38 205.13L117.89 204.06L116.43 202.46M111.55 202.46L118.38 202.46M111.55 198.19L118.38 198.19M113.50 198.19L112.04 196.59L111.55 195.52L111.55 193.92L112.04 192.85L113.50 192.32L118.38 192.32M96.97 172.96L113.50 172.96M96.97 172.96L113.50 166.07M96.97 159.18L113.50 166.07M96.97 159.18L113.50 159.18M102.48 152.29L119.01 152.29M104.84 152.29L103.27 150.57L102.48 148.85L102.48 146.26L103.27 144.54L104.84 142.82L107.20 141.96L108.78 141.96L111.14 142.82L112.71 144.54L113.50 146.26L113.50 148.85L112.71 150.57L111.14 152.29M104.84 126.46L103.27 128.18L102.48 129.90L102.48 132.48L103.27 134.21L104.84 135.93L107.20 136.79L108.78 136.79L111.14 135.93L112.71 134.21L113.50 132.48L113.50 129.90L112.71 128.18L111.14 126.46M95.73 121.74L95.73 112.13M89.87 107.32L89.87 101.45L93.77 104.65L93.77 103.05L94.26 101.98L94.75 101.45L96.21 100.91L97.19 100.91L98.65 101.45L99.63 102.52L100.12 104.12L100.12 105.72L99.63 107.32L99.14 107.85L98.17 108.39M93.82 90.70L119.01 90.70M93.82 96.73L93.82 90.70M119.01 96.73L119.01 90.70" fill="none" stroke="#000" stroke-width="1.8" stroke-linecap="square" stroke-linejoin="round"/>
<path d="M107.20 389.80L109.56 389.80L111.93 388.94L112.71 388.08L113.50 386.36L113.50 384.63L112.71 382.91L111.14 381.19L108.78 380.33L106.42 380.33L104.05 381.19L103.27 382.05L102.48 383.77L102.48 385.49L103.27 387.22L104.84 388.94L107.20 389.80L119.01 393.24" fill="none" stroke="#000" stroke-width="2.3" stroke-linecap="square" stroke-linejoin="round"/>
</svg>
</body></html>
